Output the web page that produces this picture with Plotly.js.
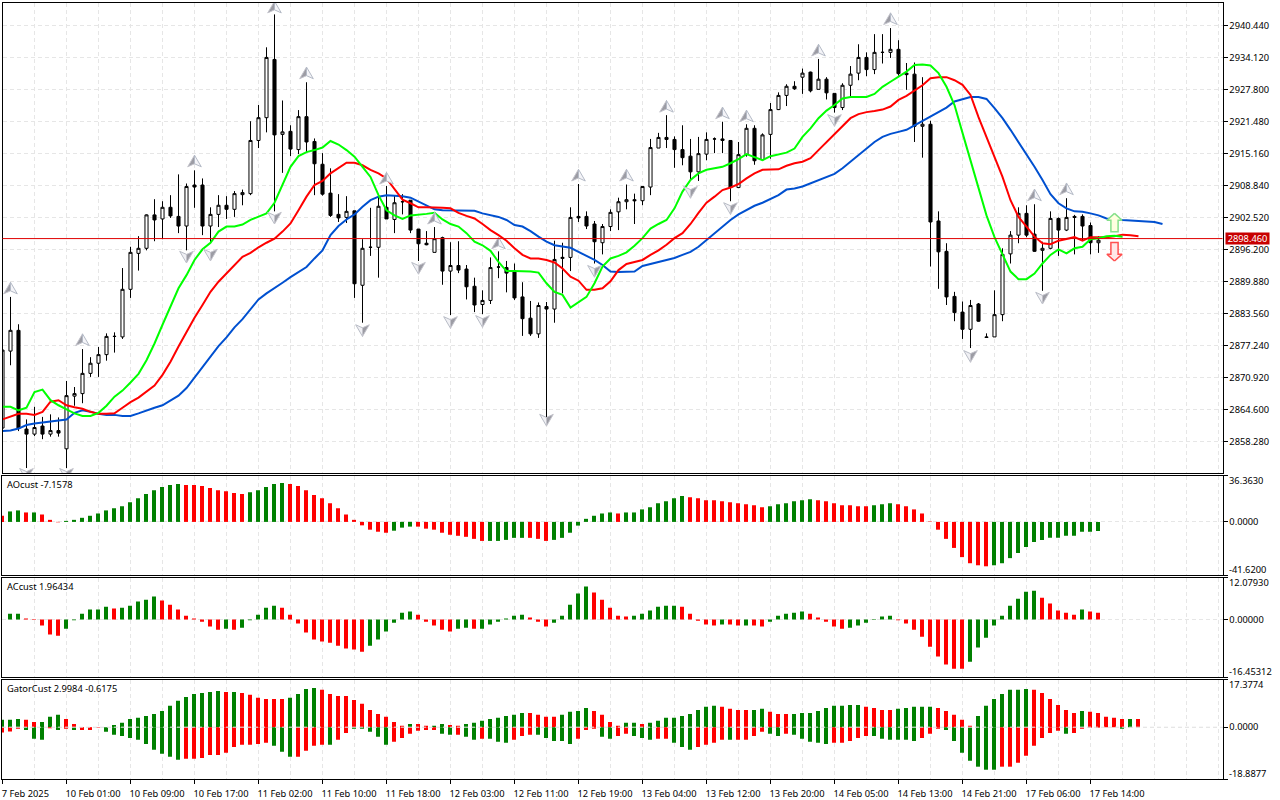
<!DOCTYPE html>
<html><head><meta charset="utf-8">
<script src="https://cdn.plot.ly/plotly-3.0.1.min.js"></script>
<style>html,body{margin:0;padding:0;background:#fff}#c{width:1280px;height:800px}</style>
</head><body><div id="c"></div>
<script>
const open_=[2860.9,2876.1,2880.2,2860.7,2859.7,2861.3,2859.7,2860.4,2856.8,2867.2,2867.7,2871.7,2873.7,2875.4,2879.0,2878.9,2888.3,2895.4,2896.4,2903.0,2902.2,2904.5,2902.7,2900.8,2908.9,2908.9,2900.8,2903.1,2904.9,2904.1,2907.0,2907.2,2917.7,2922.2,2933.7,2918.9,2919.5,2915.9,2922.4,2917.5,
2913.0,2907.3,2903.1,2902.5,2903.8,2889.1,2896.6,2896.6,2904.5,2902.1,2905.6,2905.9,2900.2,2897.4,2895.6,2898.5,2891.9,2893.0,2892.3,2888.9,2885.3,2886.1,2892.7,2892.6,2891.8,2886.8,2882.6,2879.5,2884.9,2884.4,
2894.4,2894.6,2902.7,2902.7,2901.2,2897.5,2900.7,2903.6,2905.6,2906.0,2905.8,2908.5,2916.2,2918.3,2917.9,2915.9,2914.6,2911.5,2915.0,2918.0,2918.0,2917.7,2908.4,2914.9,2920.1,2913.9,2918.9,2923.8,2926.6,2928.4,
2930.2,2931.2,2927.8,2929.8,2927.0,2924.2,2928.6,2931.0,2934.1,2931.7,2935.1,2935.1,2935.7,2931.0,2930.8,2920.5,2920.9,2901.8,2895.8,2886.9,2883.8,2880.4,2885.4,2878.9,2878.9,2883.3,2895.3,2899.0,2903.3,2899.2,2896.0,2896.4,2902.3,2900.0,2902.7,2902.7,2900.9,2897.5];
const high_=[2876.3,2886.8,2881.4,2862.6,2865.1,2863.1,2863.6,2863.0,2870.2,2869.0,2876.5,2874.9,2876.9,2879.6,2879.8,2892.5,2896.7,2898.8,2903.1,2906.1,2905.7,2906.9,2911.0,2909.2,2911.8,2910.2,2904.5,2906.9,2906.7,2907.7,2908.0,2921.5,2924.7,2936.1,2942.6,2925.6,2920.7,2923.7,2929.2,2918.1,
2915.2,2912.2,2907.1,2906.7,2903.8,2898.2,2904.4,2906.6,2908.7,2906.9,2907.1,2905.9,2900.2,2899.8,2900.6,2898.7,2897.6,2897.8,2893.1,2890.6,2888.1,2894.6,2895.8,2893.9,2893.4,2889.7,2886.0,2885.7,2885.8,2897.9,
2897.5,2904.5,2909.1,2903.7,2901.8,2901.2,2904.1,2906.4,2909.0,2907.2,2908.7,2918.0,2919.2,2922.7,2918.5,2920.7,2918.0,2918.4,2919.3,2918.3,2921.4,2917.7,2917.4,2920.9,2920.7,2919.1,2925.1,2927.2,2928.8,2929.4,
2931.9,2931.3,2933.8,2930.2,2927.0,2929.0,2932.4,2936.7,2935.1,2938.7,2938.7,2939.9,2937.5,2933.0,2933.1,2930.2,2921.6,2903.7,2897.4,2887.8,2885.9,2886.2,2885.6,2879.6,2888.1,2896.4,2899.8,2904.5,2904.9,2905.1,2897.7,2903.7,2902.5,2906.3,2903.0,2903.1,2901.5,2898.8];
const low_=[2860.9,2873.3,2860.3,2853.0,2859.3,2858.7,2859.2,2859.2,2853.0,2865.3,2865.8,2871.0,2871.0,2874.2,2875.8,2878.5,2886.6,2892.0,2896.0,2897.8,2898.2,2902.4,2899.4,2896.0,2904.4,2899.0,2897.4,2900.6,2902.2,2902.6,2904.9,2906.9,2916.2,2919.3,2903.7,2911.3,2914.6,2915.0,2915.4,2906.9,
2906.8,2902.6,2901.6,2901.4,2886.6,2881.7,2894.9,2890.6,2902.2,2899.4,2903.1,2899.4,2893.9,2897.0,2895.6,2889.2,2883.2,2891.5,2886.3,2883.8,2883.4,2885.4,2890.5,2887.7,2886.2,2879.1,2879.1,2878.7,2862.9,2881.7,
2887.5,2891.9,2901.6,2900.2,2893.4,2895.2,2899.8,2900.0,2904.1,2901.2,2904.9,2906.9,2916.2,2916.2,2912.3,2912.8,2909.7,2909.7,2913.8,2915.2,2915.2,2905.7,2908.3,2914.5,2912.9,2913.9,2914.1,2923.7,2924.5,2927.7,
2926.9,2927.2,2927.8,2925.8,2923.2,2923.7,2926.3,2929.6,2930.4,2930.8,2932.9,2934.0,2930.5,2927.7,2917.4,2914.3,2892.8,2888.4,2885.2,2882.0,2878.5,2876.7,2881.9,2878.8,2878.9,2882.0,2893.4,2897.4,2898.6,2895.7,2888.0,2896.2,2894.9,2899.8,2895.2,2897.9,2895.2,2895.5];
const close_=[2876.3,2880.2,2860.8,2859.7,2861.0,2859.7,2860.4,2859.9,2867.3,2867.7,2871.7,2873.7,2875.4,2879.0,2879.0,2888.3,2895.6,2896.4,2903.0,2902.0,2904.5,2902.8,2900.8,2908.6,2908.5,2900.8,2903.1,2904.9,2904.1,2907.2,2907.4,2917.7,2922.2,2934.1,2918.8,2919.4,2916.0,2922.4,2917.4,2913.1,
2907.1,2902.9,2902.4,2903.7,2889.4,2896.4,2896.6,2904.7,2902.2,2905.4,2905.6,2900.0,2897.3,2897.1,2898.3,2891.9,2893.0,2892.1,2888.8,2885.2,2886.1,2892.6,2892.7,2891.5,2886.6,2882.5,2879.5,2885.1,2884.4,2894.2,
2894.6,2902.5,2902.4,2900.8,2897.7,2900.7,2903.5,2905.6,2906.0,2905.8,2908.6,2916.3,2918.3,2917.9,2915.9,2914.3,2911.5,2915.1,2917.9,2918.0,2917.7,2908.4,2914.9,2920.1,2913.7,2918.8,2923.8,2926.6,2928.4,2927.9,
2931.0,2927.5,2929.8,2927.1,2924.2,2928.6,2930.8,2934.1,2931.7,2935.1,2935.1,2935.7,2930.9,2930.7,2920.5,2920.9,2901.6,2895.7,2886.8,2883.7,2880.4,2885.1,2882.0,2878.8,2883.3,2895.2,2899.0,2903.3,2899.0,2895.8,2896.4,2902.3,2900.0,2902.5,2902.5,2900.8,2897.5,2898.0];

const jawBlue=[2860.3,2860.4,2860.8,2861.5,2861.8,2862.0,2862.3,2862.4,2862.6,2863.9,2864.4,2864.1,2863.7,2863.5,2863.5,2863.3,2863.3,2863.8,2864.4,2864.9,2865.4,2866.4,2867.3,2868.8,2870.9,2872.9,2875.0,2877.1,2878.8,2880.8,2882.4,2884.4,2886.3,2887.5,2888.5,2889.6,2890.7,2891.7,2892.7,2894.4,
2896.0,2899.0,2900.8,2902.1,2903.1,2904.6,2905.9,2906.6,2906.9,2906.8,2906.7,2906.4,2905.6,2904.8,2904.1,2903.9,2903.9,2903.8,2903.8,2903.8,2903.3,2902.9,2902.6,2902.0,2901.0,2900.7,2899.8,2898.7,2897.7,2897.0,2896.7,2896.5,2895.7,2894.9,2894.1,2893.1,2891.8,2891.7,2891.7,2891.8,
2892.9,2893.3,2893.7,2894.1,2894.5,2895.1,2895.7,2896.7,2898.0,2899.4,2900.7,2902.0,2903.1,2903.9,2904.8,2905.4,2906.1,2906.9,2908.0,2908.2,2908.6,2909.2,2909.9,2910.4,2911.1,2912.2,2913.5,2914.8,2916.1,2917.4,2918.4,2919.0,2919.4,2919.8,2920.7,2921.6,2922.4,2923.4,2924.2,2925.4,
2925.9,2926.3,2926.3,2925.9,2924.1,2922.1,2919.8,2917.4,2914.8,2912.5,2909.9,2907.1,2905.3,2904.3,2903.7,2903.6,2903.3,2902.9,2902.3,2902.1,2902.0,2901.9,2901.8,2901.8,2901.6,2901.2];
const teethRed=[2862.6,2863.1,2863.7,2863.7,2863.5,2864.1,2866.1,2866.4,2865.4,2865.0,2864.7,2864.1,2863.7,2863.7,2863.8,2864.9,2866.0,2866.9,2868.1,2869.3,2871.4,2874.0,2877.0,2879.9,2882.7,2885.2,2887.8,2889.8,2891.4,2893.1,2894.7,2895.5,2896.6,2897.5,2898.3,2899.7,2901.3,2903.9,2906.6,2908.9,
2909.7,2911.2,2912.2,2913.3,2913.3,2912.8,2911.9,2911.2,2910.2,2908.2,2906.0,2905.3,2904.5,2904.5,2904.5,2904.4,2904.3,2903.4,2902.8,2902.3,2901.2,2900.0,2899.0,2897.9,2896.4,2895.1,2894.4,2894.4,2894.1,2893.6,2892.4,2890.8,2890.0,2888.2,2888.2,2888.5,2889.9,2892.1,2893.3,2893.7,
2894.1,2895.1,2896.0,2897.1,2898.4,2899.4,2901.2,2903.4,2905.4,2906.6,2907.9,2908.4,2909.1,2910.2,2911.2,2911.9,2912.0,2912.0,2912.7,2913.2,2913.5,2914.2,2915.8,2917.4,2919.1,2920.7,2922.1,2922.9,2923.3,2923.5,2923.8,2924.4,2925.7,2926.5,2927.5,2928.6,2930.0,2930.2,2930.2,2929.6,
2928.7,2926.7,2922.3,2918.4,2914.5,2910.5,2905.9,2902.6,2900.7,2898.7,2897.4,2897.2,2897.9,2898.2,2898.6,2897.9,2898.6,2898.6,2898.6,2898.8,2899.1,2899.0,2898.8];
const lipsGreen=[2865.1,2865.1,2864.4,2864.9,2868.0,2868.5,2866.4,2865.4,2864.6,2863.8,2863.3,2863.3,2863.9,2865.3,2867.1,2868.3,2869.9,2871.6,2874.3,2877.6,2881.3,2884.9,2888.5,2891.1,2894.1,2896.2,2897.5,2899.7,2900.7,2900.7,2901.1,2902.0,2902.6,2903.3,2905.4,2908.9,2912.5,2914.6,2915.4,2915.8,
2916.3,2917.6,2916.9,2915.8,2914.5,2912.5,2910.5,2906.9,2903.9,2902.9,2902.2,2902.9,2903.0,2903.2,2903.4,2902.1,2901.2,2900.7,2899.4,2897.7,2897.0,2895.9,2893.7,2891.9,2891.9,2891.9,2891.8,2891.6,2889.5,2887.8,2887.2,2884.7,2885.7,2886.8,2889.5,2892.8,2894.4,2894.9,2895.6,2896.9,
2898.4,2900.3,2901.2,2902.0,2904.3,2907.6,2909.9,2911.2,2911.9,2912.2,2912.5,2913.2,2914.0,2915.0,2914.4,2913.8,2914.6,2914.9,2915.3,2916.1,2918.4,2920.1,2922.1,2923.6,2924.7,2926.0,2926.3,2926.3,2926.3,2926.9,2928.3,2929.3,2930.3,2931.3,2932.6,2932.7,2932.5,2931.0,2928.3,2924.7,
2919.2,2913.8,2907.9,2902.9,2898.6,2895.1,2891.8,2890.3,2890.3,2891.4,2893.4,2895.1,2896.2,2895.4,2896.4,2896.7,2898.2,2898.4,2898.8,2898.9,2898.7];

const fractalUpBars=[1,10,24,34,38,48,54,62,72,78,83,90,93,102,111,129,133];
const fractalUpPrices=[2889.7,2879.5,2914.8,2945.2,2932.2,2911.4,2903.5,2898.6,2912.0,2912.0,2925.6,2924.3,2923.7,2936.7,2942.9,2908.1,2909.3];
const fractalDownBars=[3,8,23,26,34,45,52,56,60,68,74,86,91,104,121,130];
const fractalDownPrices=[2850.6,2850.6,2893.5,2893.9,2901.2,2879.0,2891.3,2880.6,2880.8,2861.3,2890.7,2906.3,2903.1,2920.5,2873.9,2885.4];

const aoValues=[4.8,8.2,9.0,7.4,7.4,5.8,1.6,-0.3,0.8,1.6,3.2,4.8,6.6,9.0,10.6,12.2,15.4,18.6,21.8,24.9,27.3,28.9,29.7,28.9,28.9,28.1,26.5,24.9,24.1,22.6,21.8,23.3,24.9,27.3,29.7,30.5,29.7,28.1,24.9,21.0,18.6,14.6,10.6,5.8,1.6,-2.7,-6.1,-7.7,-8.5,-6.9,-4.5,-3.7,-3.7,
-5.3,-6.1,-8.5,-10.1,-10.9,-11.7,-13.3,-14.9,-14.9,-14.9,-14.1,-12.5,-12.5,-12.5,-13.3,-14.9,-14.1,-12.5,-8.5,-2.9,2.4,4.8,6.6,7.4,6.6,7.4,7.4,9.8,11.4,14.6,16.2,18.6,20.2,19.4,18.6,17.0,17.0,16.2,15.4,14.6,13.8,13.0,11.4,12.2,13.8,14.6,16.2,17.0,17.8,17.0,16.2,14.6,
13.0,13.0,12.2,12.2,13.0,13.8,14.6,13.8,12.2,9.8,6.6,0.3,-6.1,-13.3,-20.4,-27.6,-32.4,-34.0,-34.8,-34.0,-32.4,-28.4,-24.4,-19.6,-15.7,-14.1,-12.5,-12.5,-10.9,-10.9,-7.7,-7.7,-7.16];
const aoFlags="rggrgrrrgg"+"gggggggggg"+"gggrrrrrrr"+"rgggggrrrr"+"rrrrrrrrrg"+"ggrrrrrrrr"+"rgggggrrrg"+"gggggggrgg"+"ggggggrrrr"+"rrrrrrgggg"+"ggrrrrrrrg"+"ggrrrrrrrr"+"rrrrgggggg"+"gggggggg";

const acValues=[null,1.7,1.7,0.3,-0.1,-1.7,-4.3,-4.6,-2.6,-0.2,1.7,2.9,2.9,3.7,3.2,3.4,4.0,5.2,5.7,6.6,5.5,4.3,2.9,1.1,0.3,-0.6,-2.0,-2.9,-2.6,-2.9,-2.3,-0.2,1.4,3.4,4.0,3.4,1.4,-1.1,-3.7,-5.7,-6.3,-6.6,-7.5,-8.3,-8.6,-9.2,-7.5,-5.7,-3.4,-0.9,2.0,2.3,1.4,
-0.6,-1.7,-2.9,-3.4,-2.6,-2.3,-2.6,-2.6,-1.4,-0.6,0.3,1.1,1.4,0.6,-0.6,-2.0,-0.9,1.1,4.3,7.5,9.5,7.8,5.7,3.4,1.1,0.9,1.1,1.7,2.6,3.7,4.0,4.0,3.7,1.7,-0.3,-1.4,-1.7,-1.4,-1.4,-1.7,-1.7,-1.7,-2.0,-0.6,1.1,1.7,2.0,2.3,1.7,0.6,-0.6,-2.0,
-2.6,-2.3,-1.7,-0.9,-0.1,0.9,1.1,-0.2,-1.1,-2.9,-4.9,-7.8,-10.6,-12.9,-14.1,-14.1,-12.1,-8.0,-5.2,-1.7,1.1,4.0,6.0,8.0,8.3,6.3,4.6,2.6,2.0,1.4,2.9,2.3,1.96];
const acFlags="gggrrrrrgg"+"ggggrggggg"+"rrrrrrrrgr"+"gggggrrrrr"+"rrrrrrgggg"+"ggrrrrrggr"+"ggggggrrrg"+"ggggrrrrrg"+"gggggrrrrr"+"grrgrrgggg"+"grrrrrgggg"+"ggrrrrrrrr"+"rggggggggg"+"rrrrrgrr";

const gatorUpper=[2.7,2.7,3.0,2.7,1.9,1.9,3.8,4.5,3.0,1.2,0.1,0.1,0.1,0,0.8,1.6,3.0,3.4,4.1,4.8,5.9,7.8,9.6,11.0,12.1,12.5,12.8,13.2,12.8,12.8,12.5,11.8,10.7,10.3,10.3,10.3,10.7,12.1,13.9,14.3,13.6,12.1,11.4,11.4,9.9,8.5,6.3,4.8,3.8,1.9,0.5,1.2,1.2,
0.5,0.5,1.2,0.8,0.5,1.2,1.6,2.3,3.0,3.4,4.1,4.5,5.2,5.2,4.5,3.8,3.8,4.5,5.6,5.9,7.0,5.9,4.5,1.9,0.5,1.6,1.6,1.2,1.6,2.3,3.4,3.4,4.1,4.8,6.3,7.4,7.8,7.4,6.7,6.3,6.3,6.3,6.7,5.6,4.8,4.8,4.8,5.2,5.2,5.9,7.0,7.8,
7.8,8.1,8.1,7.4,7.0,6.3,6.3,6.7,7.0,7.4,7.4,7.4,7.0,5.9,4.5,2.7,0.5,4.1,7.8,10.3,12.1,13.6,13.6,13.9,13.6,12.5,10.3,8.1,6.3,5.2,5.9,5.6,5.2,3.8,3.4,3.0,3.0,3.0];
const gatorUpperFlags="gggrrgggrr"+"rrrggggggg"+"ggggggggrg"+"rrrrrrgggg"+"rrrrrrrrrr"+"rgrrggrrgg"+"ggggggrrrr"+"ggggrrrrgg"+"rggggggggg"+"rrrrggrrrg"+"ggggggggrr"+"rrgggggrrr"+"rrgggggggr"+"rrrrrgrrrr"+"rgr";
const gatorLower=[-1.9,-1.6,-0.6,-1.0,-4.2,-4.6,-0.4,-1.0,-0.6,-1.0,-1.0,-1.0,-0.1,-1.7,-2.8,-3.2,-3.9,-4.6,-6.1,-8.2,-9.7,-10.8,-11.9,-11.5,-11.5,-11.2,-10.1,-10.1,-9.3,-7.2,-6.4,-6.4,-6.1,-5.7,-6.8,-9.0,-10.8,-10.8,-8.6,-6.8,-6.4,-6.4,-4.6,-2.1,-0.6,-0.6,-1.7,-3.5,-6.4,-5.3,-3.9,-2.4,-1.3,
-1.0,-1.0,-2.4,-2.8,-2.8,-3.5,-4.6,-4.2,-4.2,-5.3,-5.7,-4.6,-3.2,-2.8,-2.8,-3.9,-5.0,-5.0,-6.1,-4.2,-1.0,-0.6,-3.5,-4.2,-3.2,-2.4,-3.2,-3.9,-4.6,-4.2,-4.2,-5.7,-7.2,-8.2,-7.2,-6.4,-5.7,-4.6,-4.6,-4.6,-4.6,-3.2,-1.7,-2.4,-3.2,-2.4,-2.8,-4.2,-5.3,-5.7,-6.1,-5.7,
-5.7,-5.0,-3.9,-3.2,-3.2,-4.2,-4.6,-4.6,-4.6,-5.0,-3.9,-2.4,-0.6,-1.0,-5.0,-9.3,-12.2,-14.4,-15.5,-15.5,-14.4,-14.4,-13.0,-10.4,-6.8,-3.9,-2.1,-1.3,-2.4,-2.1,-0.6,-0.2,-0.2,0,0,-0.6,0,0];
const gatorLowerFlags="rrrgggrgrg"+"rrrggggggg"+"gggrrrrrrr"+"rrrrgggrrr"+"rgrrgggggr"+"rrrrrggrgg"+"rgggrrrggg"+"ggrrrggrrg"+"ggrrgggrrr"+"rgrrrrggrg"+"ggggrrrrrg"+"gggggrrrgg"+"gggggrrrrr"+"rrrgrrrrrr"+"ggg";

const priceTicks=[2940.44,2934.12,2927.8,2921.48,2915.16,2908.84,2902.52,2896.2,2889.88,2883.56,2877.24,2870.92,2864.6,2858.28];
const priceTickLabels=["2940.440","2934.120","2927.800","2921.480","2915.160","2908.840","2902.520","2896.200","2889.880","2883.560","2877.240","2870.920","2864.600","2858.280"];
const timeLabels=["7 Feb 2025\u00a0\u00a0\u00a0","10 Feb 01:00","10 Feb 09:00","10 Feb 17:00","11 Feb 02:00","11 Feb 10:00","11 Feb 18:00","12 Feb 03:00","12 Feb 11:00","12 Feb 19:00","13 Feb 04:00","13 Feb 12:00","13 Feb 20:00","14 Feb 05:00","14 Feb 13:00","14 Feb 21:00","17 Feb 06:00","17 Feb 14:00"];
const currentPriceLine=2898.32, currentPriceLabel="2898.460";
const signalUp={bar:139,price:2903.3}, signalDown={bar:139,price:2893.9};

const W=1280,H=800,FONT='"Noto Sans","Liberation Sans",sans-serif',FS=9.3;
const GRID='#e6e6e6',GREEN='#008000',RED='#ff0000';
const idx=a=>a.map((_,i)=>i);
const colors=f=>f.split('').map(c=>c==='g'?GREEN:RED);
const dx=px=>px/W, dy=py=>1-py/H;
const tick8=timeLabels.map((_,k)=>k*8), grid4=[];for(let i=0;i<=152;i+=4)grid4.push(i);

function xAxis(anchor,labels,left){return {domain:[dx(left),dx(1222.5)],range:[0,(1222.5-left)/8],anchor,type:'linear',showline:true,linecolor:'#000',linewidth:1,mirror:true,
  tickmode:'array',tickvals:tick8,ticktext:labels?timeLabels:tick8.map(()=>''),ticks:labels?'outside':'',ticklen:4,tickcolor:'#000',
  showgrid:false,zeroline:false,showticklabels:!!labels,ticklabelshift:27,ticklabelstandoff:2,tickangle:0,
  minor:{tickmode:'array',tickvals:grid4,showgrid:true,gridcolor:GRID,griddash:'4px,3px',gridwidth:1,ticks:''},
  tickfont:{family:FONT,size:FS,color:'#000'},rangeslider:{visible:false},fixedrange:true};}
function yAxis(anchor,dom,range,vals,txt){return {domain:[dy(dom[1]),dy(dom[0])],range,anchor,side:'right',showline:true,linecolor:'#000',linewidth:1,mirror:true,
  tickmode:'array',tickvals:vals,ticktext:txt,ticks:'outside',ticklen:4,tickcolor:'#000',showgrid:true,gridcolor:GRID,griddash:'4px,3px',gridwidth:1,zeroline:false,
  tickfont:{family:FONT,size:FS,color:'#000'},automargin:false,fixedrange:true};}

const none={hoverinfo:'skip',showlegend:false};
// Fractal marks: notched two-tone darts built around each fractal value (offsets in bars and price units)
function dartHalf(bars,prices,side,dir,fill,edge){
  const xs=[],ys=[];
  bars.forEach((b,k)=>{const p=prices[k];
    xs.push(b,b+side*0.85,b,b,null);
    ys.push(p,p-dir*2.3,p-dir*1.7,p,null);});
  return {type:'scatter',mode:'lines',x:xs,y:ys,xaxis:'x',yaxis:'y',...none,fill:'toself',fillcolor:fill,line:{color:edge,width:1}};
}
function outline(sig,pts,color,fill){return {type:'scatter',mode:'lines',x:pts.map(p=>sig.bar+p[0]),y:pts.map(p=>sig.price+p[1]),xaxis:'x',yaxis:'y',...none,fill:'toself',fillcolor:fill,line:{color,width:1.5}};}
const upShape=[[0,0],[0.95,-1.35],[0.45,-1.35],[0.45,-3.65],[-0.45,-3.65],[-0.45,-1.35],[-0.95,-1.35],[0,0]];
const downShape=upShape.map(p=>[p[0],-p[1]]);

const traces=[
 {type:'candlestick',x:idx(open_),open:open_,high:high_,low:low_,close:close_,xaxis:'x',yaxis:'y',...none,whiskerwidth:0,
  increasing:{line:{color:'#000',width:1},fillcolor:'#fff'},decreasing:{line:{color:'#000',width:1},fillcolor:'#000'}},
 {type:'scatter',mode:'lines',x:idx(jawBlue),y:jawBlue,xaxis:'x',yaxis:'y',...none,line:{color:'#0050d0',width:2}},
 {type:'scatter',mode:'lines',x:idx(teethRed),y:teethRed,xaxis:'x',yaxis:'y',...none,line:{color:'#ff0000',width:2}},
 {type:'scatter',mode:'lines',x:idx(lipsGreen),y:lipsGreen,xaxis:'x',yaxis:'y',...none,line:{color:'#00ff00',width:2}},
 dartHalf(fractalUpBars,fractalUpPrices,-1,1,'#9c9ca4','#c4c4cc'),
 dartHalf(fractalUpBars,fractalUpPrices,1,1,'#f4f4f8','#b4bac6'),
 dartHalf(fractalDownBars,fractalDownPrices,-1,-1,'#f0f0f4','#b8bcc6'),
 dartHalf(fractalDownBars,fractalDownPrices,1,-1,'#9c9ca4','#c4c4cc'),
 outline(signalUp,upShape,'#86e08a','#ffffe0'),
 outline(signalDown,downShape,'#ff5050','#ffe8e8'),
 {type:'bar',x:idx(aoValues),y:aoValues,xaxis:'x2',yaxis:'y2',width:0.5,...none,marker:{color:colors(aoFlags),line:{width:0}}},
 {type:'bar',x:idx(acValues),y:acValues,xaxis:'x3',yaxis:'y3',width:0.5,...none,marker:{color:colors(acFlags),line:{width:0}}},
 {type:'bar',x:idx(gatorUpper),y:gatorUpper,xaxis:'x4',yaxis:'y4',width:0.5,...none,marker:{color:colors(gatorUpperFlags),line:{width:0}}},
 {type:'bar',x:idx(gatorLower),y:gatorLower,xaxis:'x4',yaxis:'y4',width:0.5,...none,marker:{color:colors(gatorLowerFlags),line:{width:0}}}
];

function note(text,px,py,extra){return Object.assign({xref:'paper',yref:'paper',x:dx(px),y:dy(py),text,showarrow:false,xanchor:'left',yanchor:'middle',font:{family:FONT,size:FS,color:'#000'},borderpad:0},extra||{});}
const annotations=[
 note('AOcust -7.1578',5.5,484.3),note('ACcust 1.96434',5.5,586.7),note('GatorCust 2.9984 -0.6175',5.5,688.3),
 note('36.3630',1227.5,480),note('-41.6200',1227.5,569.5),
 note('12.07930',1227.5,582.7),note('-16.45312',1227.5,671.7),
 note('17.3774',1227.5,684.3),note('-18.8877',1227.5,773.7),
 note(currentPriceLabel,1225,238.7,{bgcolor:'#c80000',font:{family:FONT,size:FS,color:'#fff'},width:43,height:11,align:'center'})
];
const layout={width:W,height:H,margin:{l:0,r:0,t:0,b:0},paper_bgcolor:'#fff',plot_bgcolor:'#fff',showlegend:false,barmode:'overlay',boxgap:0.45,font:{family:FONT,size:FS,color:'#000'},
 xaxis:xAxis('y',false,2.5),yaxis:yAxis('x',[2.5,473],[2852.02,2944.95],priceTicks,priceTickLabels),
 xaxis2:xAxis('y2',false,2),yaxis2:yAxis('x2',[475.5,575],[-41.62,36.363],[-41.62,0,36.363],['','0.0000','']),
 xaxis3:xAxis('y3',false,2),yaxis3:yAxis('x3',[577.5,677],[-16.45312,12.0793],[-16.45312,0,12.0793],['','0.00000','']),
 xaxis4:xAxis('y4',true,2),yaxis4:yAxis('x4',[679.5,779],[-18.8877,17.3774],[-18.8877,0,17.3774],['','0.0000','']),
 annotations,
 shapes:[
  {type:'line',xref:'x domain',yref:'y',x0:0,x1:1,y0:currentPriceLine,y1:currentPriceLine,line:{color:'#e00000',width:1},layer:'above'},
  {type:'line',xref:'x4 domain',yref:'y4',x0:0,x1:1,y0:0,y1:0,line:{color:GRID,width:1,dash:'4px,3px'},layer:'above'}
 ]};
Plotly.newPlot('c',traces,layout,{staticPlot:true,displayModeBar:false});
</script></body></html>
